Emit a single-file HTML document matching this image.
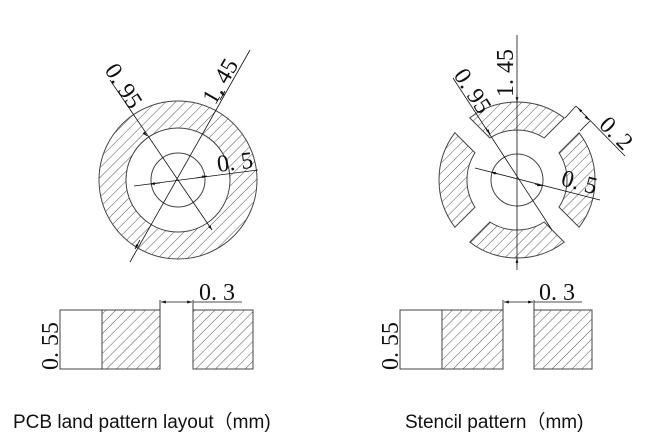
<!DOCTYPE html>
<html><head><meta charset="utf-8"><style>
body{margin:0;background:#fff;width:656px;height:447px;overflow:hidden}
svg{display:block}
.t{font-family:"Liberation Serif",serif;font-size:24px;fill:#111}
.c{font-family:"Liberation Sans","Noto Sans CJK SC",sans-serif;font-size:19px;fill:#111}
</style></head><body>
<svg width="656" height="447" viewBox="0 0 656 447">
<defs>
<pattern id="h" width="7" height="7" patternUnits="userSpaceOnUse" patternTransform="rotate(45)">
<line x1="0" y1="0" x2="0" y2="7" stroke="#444" stroke-width="0.9"/>
</pattern>
<marker id="a" viewBox="0 0 10 10" refX="10" refY="5" markerWidth="8" markerHeight="6" orient="auto-start-reverse"><path d="M0,2 L10,5 L0,8z" fill="#111"/></marker>
</defs>
<g fill="url(#h)" stroke="#444" stroke-width="1">
<path d="M178,101 a79,79 0 1,0 0.01,0 z M178,128 a52,52 0 1,1 -0.01,0 z" fill-rule="evenodd"/>
<circle cx="178" cy="180" r="27" fill="none"/>
<path d="M469.8,117.9 A78,78 0 0 1 564.2,117.9 L544.15,138 A50,50 0 0 0 489.85,138 Z"/>
<path d="M579.1,132.8 A78,78 0 0 1 579.1,227.2 L559,207.15 A50,50 0 0 0 559,152.85 Z"/>
<path d="M564.2,242.1 A78,78 0 0 1 469.8,242.1 L489.85,222 A50,50 0 0 0 544.15,222 Z"/>
<path d="M454.9,227.2 A78,78 0 0 1 454.9,132.8 L475,152.85 A50,50 0 0 0 475,207.15 Z"/>
<circle cx="517" cy="180" r="26" fill="none"/>
</g>
<g stroke="#111" stroke-width="0.8" fill="none">
<line x1="110" y1="80" x2="212" y2="230" marker-end="url(#a)"/>
<line x1="146" y1="135" x2="147" y2="136" marker-end="url(#a)"/>
<line x1="130" y1="262" x2="250" y2="50"/>
<line x1="140" y1="240" x2="135" y2="249" marker-end="url(#a)"/>
<line x1="220" y1="100" x2="225" y2="91" marker-end="url(#a)"/>
<line x1="134" y1="186" x2="258" y2="170"/>
<line x1="160" y1="183" x2="150" y2="184" marker-end="url(#a)"/>
<line x1="196" y1="178" x2="207" y2="176" marker-end="url(#a)"/>
<line x1="517" y1="35" x2="517" y2="270"/>
<line x1="517" y1="95" x2="517" y2="102" marker-end="url(#a)"/>
<line x1="517" y1="265" x2="517" y2="258" marker-end="url(#a)"/>
<line x1="453" y1="78" x2="552" y2="230"/>
<line x1="486" y1="128" x2="490" y2="134" marker-end="url(#a)"/>
<line x1="475" y1="168" x2="600" y2="200"/>
<line x1="498" y1="174" x2="491" y2="172" marker-end="url(#a)"/>
<line x1="535" y1="184" x2="542" y2="186" marker-end="url(#a)"/>
<line x1="565" y1="118" x2="576" y2="106"/>
<line x1="580" y1="131" x2="590" y2="121"/>
<line x1="576" y1="106" x2="625" y2="156"/>
<line x1="578" y1="108" x2="581" y2="111" marker-start="url(#a)"/>
<line x1="586" y1="117" x2="589" y2="120" marker-end="url(#a)"/>
</g>
<g stroke="#444" stroke-width="1">
<rect x="60" y="310" width="100" height="59" fill="none"/>
<rect x="102" y="310" width="58" height="59" fill="url(#h)"/>
<rect x="193" y="310" width="60" height="59" fill="url(#h)"/>
<rect x="400" y="310" width="103" height="59" fill="none"/>
<rect x="442" y="310" width="61" height="59" fill="url(#h)"/>
<rect x="534" y="310" width="58" height="59" fill="url(#h)"/>
</g>
<g stroke="#111" stroke-width="0.8">
<line x1="160" y1="300" x2="160" y2="310"/><line x1="193" y1="300" x2="193" y2="310"/>
<line x1="161" y1="302" x2="192" y2="302" marker-start="url(#a)" marker-end="url(#a)"/>
<line x1="193" y1="302" x2="242" y2="302"/>
<line x1="503" y1="300" x2="503" y2="310"/><line x1="534" y1="300" x2="534" y2="310"/>
<line x1="504" y1="302" x2="533" y2="302" marker-start="url(#a)" marker-end="url(#a)"/>
<line x1="534" y1="302" x2="582" y2="302"/>
</g>
<text class="t" x="199" y="300">0. 3</text>
<text class="t" x="539" y="300">0. 3</text>
<text class="t" transform="translate(58,370) rotate(-90)">0. 55</text>
<text class="t" transform="translate(398,370) rotate(-90)">0. 55</text>
<text class="t" transform="translate(104,70) rotate(57)">0. 95</text>
<text class="t" transform="translate(215,106) rotate(-60)">1. 45</text>
<text class="t" transform="translate(218,172) rotate(-7)">0. 5</text>
<text class="t" transform="translate(513,97) rotate(-90)">1. 45</text>
<text class="t" transform="translate(453,75) rotate(57)">0. 95</text>
<text class="t" transform="translate(560,185) rotate(15)">0. 5</text>
<text class="t" transform="translate(598,126) rotate(45)">0. 2</text>
<text class="c" x="13" y="428">PCB land pattern layout（mm)</text>
<text class="c" x="405" y="428">Stencil pattern（mm)</text>
</svg>
</body></html>
